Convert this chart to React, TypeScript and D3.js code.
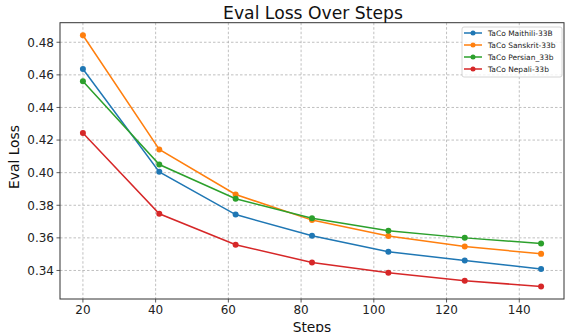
import React from "react";
import * as d3 from "d3";

const steps = [20, 41, 62, 83, 104, 125, 146];
const maithili = [0.4636, 0.4005, 0.3743, 0.3613, 0.3515, 0.3461, 0.3409];
const sanskrit = [0.4843, 0.4142, 0.3866, 0.3709, 0.3611, 0.3547, 0.3502];
const persian = [0.4561, 0.405, 0.384, 0.3721, 0.3643, 0.36, 0.3566];
const nepali = [0.4244, 0.3748, 0.3558, 0.3449, 0.3386, 0.3337, 0.3302];
const seriesNames = ["TaCo Maithili-33B", "TaCo Sanskrit-33b", "TaCo Persian_33b", "TaCo Nepali-33b"];
const seriesColors = ["#1f77b4", "#ff7f0e", "#2ca02c", "#d62728"];
const xTicks = [20, 40, 60, 80, 100, 120, 140];
const yTicks = [0.34, 0.36, 0.38, 0.4, 0.42, 0.44, 0.46, 0.48];

export default function App() {
  const W = 566, H = 332;
  const L = 60, R = 564, T = 22.7, B = 299;
  const x = d3.scaleLinear().domain([13.7, 152.3]).range([L, R]);
  const y = d3.scaleLinear().domain([0.3225, 0.492]).range([B, T]);
  const series = [maithili, sanskrit, persian, nepali];
  const line = d3.line<number>().x((_, i) => x(steps[i])).y((d) => y(d));
  const font = "DejaVu Sans, sans-serif";
  const lx = 462, ly = 27;
  return (
    <svg width={W} height={H} style={{ position: "absolute", left: 0, top: 0, background: "#fff" }} fontFamily={font}>
      <rect x={0} y={0} width={W} height={H} fill="#fff" />
      {xTicks.map((t) => (
        <line key={"gx" + t} x1={x(t)} x2={x(t)} y1={T} y2={B} stroke="#b0b0b0" strokeWidth={0.8} strokeDasharray="2.5,2" />
      ))}
      {yTicks.map((t) => (
        <line key={"gy" + t} x1={L} x2={R} y1={y(t)} y2={y(t)} stroke="#b0b0b0" strokeWidth={0.8} strokeDasharray="2.5,2" />
      ))}
      {series.map((s, k) => (
        <g key={k}>
          <path d={line(s) || ""} fill="none" stroke={seriesColors[k]} strokeWidth={1.5} />
          {s.map((v, i) => (
            <circle key={i} cx={x(steps[i])} cy={y(v)} r={3} fill={seriesColors[k]} />
          ))}
        </g>
      ))}
      <rect x={L} y={T} width={R - L} height={B - T} fill="none" stroke="#333" strokeWidth={1} />
      {xTicks.map((t) => (
        <g key={"tx" + t}>
          <line x1={x(t)} x2={x(t)} y1={B} y2={B + 3.5} stroke="#333" strokeWidth={0.8} />
          <text x={x(t)} y={314.3} fontSize={12} textAnchor="middle" fill="#222">{t}</text>
        </g>
      ))}
      {yTicks.map((t) => (
        <g key={"ty" + t}>
          <line x1={L - 3.5} x2={L} y1={y(t)} y2={y(t)} stroke="#333" strokeWidth={0.8} />
          <text x={L - 6} y={y(t)} dy="0.36em" fontSize={12} textAnchor="end" fill="#222">{t.toFixed(2)}</text>
        </g>
      ))}
      <text x={(L + R) / 2} y={331.5} fontSize={13.8} textAnchor="middle" fill="#111">Steps</text>
      <text transform={`translate(18.5,157) rotate(-90)`} fontSize={13.8} textAnchor="middle" fill="#111">Eval Loss</text>
      <text x={313} y={18.6} fontSize={17.2} textAnchor="middle" fill="#111">Eval Loss Over Steps</text>
      <g>
        <rect x={lx} y={ly} width={100} height={50} rx={2} fill="#fff" fillOpacity={0.8} stroke="#ccc" strokeWidth={0.8} />
        {seriesNames.map((n, k) => (
          <g key={n}>
            <line x1={lx + 2} x2={lx + 20} y1={ly + 6 + k * 12} y2={ly + 6 + k * 12} stroke={seriesColors[k]} strokeWidth={1.5} />
            <circle cx={lx + 11} cy={ly + 6 + k * 12} r={2.5} fill={seriesColors[k]} />
            <text x={lx + 26} y={ly + 6 + k * 12} dy="0.35em" fontSize={7.5} fill="#222">{n}</text>
          </g>
        ))}
      </g>
    </svg>
  );
}
